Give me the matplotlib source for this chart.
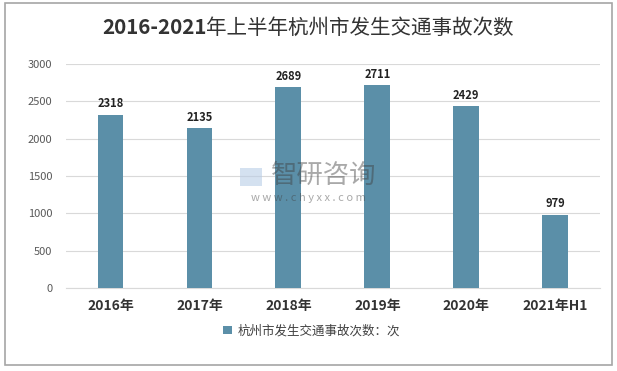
import matplotlib
matplotlib.use("Agg")
import matplotlib.pyplot as plt
from matplotlib.patches import Rectangle, Patch

plt.rcParams['font.family'] = ['Noto Sans CJK SC', 'DejaVu Sans']

categories = ["2016年", "2017年", "2018年", "2019年", "2020年", "2021年H1"]
values = [2318, 2135, 2689, 2711, 2429, 979]
yticks = [0, 500, 1000, 1500, 2000, 2500, 3000]
title_a = "2016-2021"
title_b = "年上半年杭州市发生交通事故次数"
series_name = "杭州市发生交通事故次数：次"
bar_color = "#5b8fa8"

fig = plt.figure(figsize=(6.17, 3.71), dpi=100)
ax = fig.add_axes([0.107, 0.224, 0.865, 0.604])

x = list(range(len(categories)))
ax.bar(x, values, width=0.29, color=bar_color, zorder=3)
for xi, v in zip(x, values):
    ax.text(xi, v + 60, str(v), ha='center', va='bottom', fontsize=8,
            fontweight='bold', color='#222222')

ax.set_xlim(-0.5, len(categories) - 0.5)
ax.set_ylim(0, 3000)
ax.set_yticks(yticks)
ax.set_yticklabels([str(t) for t in yticks], fontsize=8, color='#595959')
ax.set_xticks(x)
ax.set_xticklabels(categories, fontsize=10, fontweight='bold', color='#333333')
ax.tick_params(axis='both', length=0)
ax.tick_params(axis='x', pad=8)
ax.tick_params(axis='y', pad=10)
ax.grid(axis='y', color='#d9d9d9', linewidth=0.8, zorder=0)
for s in ['top', 'right', 'left']:
    ax.spines[s].set_visible(False)
ax.spines['bottom'].set_color('#d9d9d9')

# title: bold digits, regular CJK
t1 = fig.text(102/617, 1 - 28/371, title_a, ha='left', va='center', fontsize=14.8,
              fontweight='bold', color='#333333')
fig.canvas.draw()
bb = t1.get_window_extent()
fig.text(bb.x1 / fig.bbox.width, 1 - 28/371, title_b, ha='left', va='center',
         fontsize=14.8, fontweight='medium', color='#333333')

handles = [Patch(facecolor=bar_color, label=series_name)]
fig.legend(handles=handles, loc='center', bbox_to_anchor=(0.505, 0.108),
           frameon=False, fontsize=9, handlelength=0.7, handleheight=0.7,
           handletextpad=0.4, labelcolor='#404040')

# watermark
fig.text(324/617, 1 - 175/371, "智研咨询", ha='center', va='center', fontsize=19,
         color='#404040', alpha=0.45, zorder=5)
fig.text(308/617, 1 - 198/371, "w w w . c h y x x . c o m", ha='center', va='center',
         fontsize=8, color='#404040', alpha=0.45, zorder=5)
fig.patches.append(Rectangle((240/617, 1 - 186/371), 22/617, 18/371,
                             transform=fig.transFigure, facecolor='#b8cde6',
                             alpha=0.6, edgecolor='none', zorder=5))

fig.patches.append(Rectangle((5/617, 1 - 365/371), 607/617, 362/371,
                             transform=fig.transFigure, fill=False,
                             edgecolor='#a6a6a6', linewidth=1.2))

fig.savefig("out.png", dpi=100)
